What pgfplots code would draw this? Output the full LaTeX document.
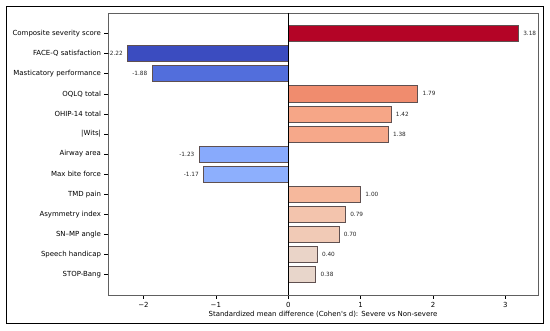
\documentclass[border=0pt]{standalone}
\usepackage{pgfplots}
\pgfplotsset{compat=1.18}
\usepackage{fontspec}
\setmainfont{DejaVu Sans}[Ligatures=TeXOff]
\definecolor{c1}{RGB}{180,4,38}
\definecolor{c2}{RGB}{59,76,192}
\definecolor{c3}{RGB}{82,110,220}
\definecolor{c4}{RGB}{240,140,110}
\definecolor{c5}{RGB}{246,166,135}
\definecolor{c6}{RGB}{246,168,138}
\definecolor{c7}{RGB}{136,170,252}
\definecolor{c8}{RGB}{141,175,253}
\definecolor{c9}{RGB}{246,184,156}
\definecolor{c10}{RGB}{243,196,173}
\definecolor{c11}{RGB}{241,202,182}
\definecolor{c12}{RGB}{234,212,200}
\definecolor{c13}{RGB}{232,214,203}
\definecolor{edgecol}{RGB}{95,80,80}
\newcommand\effbar[4]{\addplot[xbar, bar shift=0pt, bar width=0.8, fill=#1, draw=edgecol, line width=0.7bp,
  every node near coord/.append style={anchor=#4}] coordinates {(#2,#3) [#2]};}
\begin{document}
\begin{tikzpicture}
\path[use as bounding box] (0,0) rectangle (550bp,331bp);
\draw[black, line width=1.3bp] (6.5bp,7.5bp) rectangle (543.5bp,324.5bp);
\begin{axis}[
  at={(108bp,36bp)}, anchor=south west,
  scale only axis, width=430bp, height=282bp,
  xmin=-2.49, xmax=3.45, ymin=-1.03, ymax=13.03,
  y dir=reverse,
  axis line style={gray!75!black, line width=0.6bp},
  xtick={-2,-1,0,1,2,3},
  xticklabels={−2,−1,0,1,2,3},
  ytick={0,...,12},
  yticklabels={Composite severity score,FACE-Q satisfaction,Masticatory performance,OQLQ total,OHIP-14 total,|Wits|,Airway area,Max bite force,TMD pain,Asymmetry index,SN–MP angle,Speech handicap,STOP-Bang},
  xtick pos=bottom, ytick pos=left,
  tick align=outside, major tick length=3.5bp,
  tick style={black, line width=0.6bp},
  ticklabel style={font=\fontsize{7}{8}\selectfont},
  xlabel={Standardized mean difference (Cohen's d): Severe vs Non-severe},
  xlabel style={font=\fontsize{7}{8}\selectfont, yshift=3bp},
  point meta=explicit symbolic,
  nodes near coords={\pgfplotspointmeta},
  every node near coord/.append style={font=\fontsize{5.8}{6}\selectfont, inner xsep=4.5bp, inner ysep=0pt, text=black!85},
]
\effbar{c1}{3.18}{0}{west}
\effbar{c2}{-2.22}{1}{east}
\effbar{c3}{-1.88}{2}{east}
\effbar{c4}{1.79}{3}{west}
\effbar{c5}{1.42}{4}{west}
\effbar{c6}{1.38}{5}{west}
\effbar{c7}{-1.23}{6}{east}
\effbar{c8}{-1.17}{7}{east}
\effbar{c9}{1.00}{8}{west}
\effbar{c10}{0.79}{9}{west}
\effbar{c11}{0.70}{10}{west}
\effbar{c12}{0.40}{11}{west}
\effbar{c13}{0.38}{12}{west}
\addplot[black, line width=0.8bp, nodes near coords={}] coordinates {(0,-1.03) (0,13.03)};
\end{axis}
\end{tikzpicture}
\end{document}
